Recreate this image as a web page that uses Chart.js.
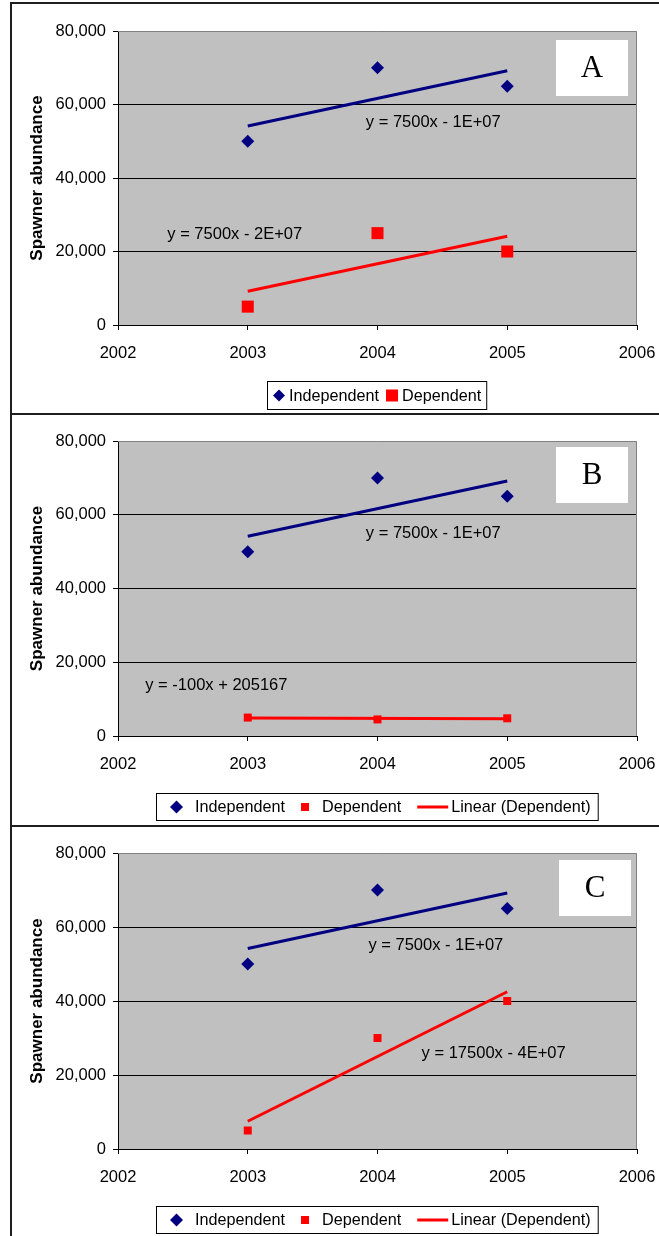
<!DOCTYPE html>
<html>
<head>
<meta charset="utf-8">
<script src="https://cdn.jsdelivr.net/npm/chart.js@4.4.1/dist/chart.umd.min.js"></script>
<style>
  html, body { margin: 0; padding: 0; background: #fff; }
  #page { position: relative; width: 659px; height: 1236px; overflow: hidden; background: #fff; }
  #page canvas { position: absolute; left: 0; }
  .rule { position: absolute; background: #1e1e1e; z-index: 2; }
</style>
</head>
<body>
<div id="page">
  <canvas id="panelA" width="672" height="414" style="top:0px"></canvas>
  <canvas id="panelB" width="672" height="412" style="top:414px"></canvas>
  <canvas id="panelC" width="672" height="410" style="top:826px"></canvas>
  <div class="rule" style="left:10px;top:2px;width:2px;height:1234px"></div>
  <div class="rule" style="left:10px;top:2px;width:649px;height:2px"></div>
  <div class="rule" style="left:10px;top:413px;width:649px;height:2px"></div>
  <div class="rule" style="left:10px;top:825px;width:649px;height:2px"></div>
</div>
<script>
// ---- data ----
const years = [2003, 2004, 2005];
const independent = [50000, 70000, 65000];
const dependentA = [5000, 25000, 20000];
const dependentB = [5000, 4500, 4800];
const dependentC = [5000, 30000, 40000];

// least-squares trend lines, evaluated at the first and last year
const trendYears = [2003, 2005];
const trendIndependent = [54167, 69167];
const trendDependentA = [9167, 24167];
const trendDependentB = [4867, 4667];
const trendDependentC = [7500, 42500];

const xTicks = [2002, 2003, 2004, 2005, 2006];
const yTicks = [0, 20000, 40000, 60000, 80000];

const seriesNames = ['Independent', 'Dependent', 'Linear (Dependent)'];
const eqIndependent = 'y = 7500x - 1E+07';
const eqDependentA = 'y = 7500x - 2E+07';
const eqDependentB = 'y = -100x + 205167';
const eqDependentC = 'y = 17500x - 4E+07';

// ---- styling ----
const SANS = '"Liberation Sans", Arial, Helvetica, sans-serif';
const SERIF = '"Liberation Serif", "Times New Roman", serif';
const NAVY = '#000080';
const RED = '#ff0000';
const PLOT_BG = '#c0c0c0';

function pts(xs, ys) { return xs.map((x, i) => ({ x: x, y: ys[i] })); }

// plot background, frame, equation labels, panel letter and boxed legend
const panelDecor = {
  id: 'panelDecor',
  beforeDraw(chart) {
    const a = chart.chartArea, ctx = chart.ctx;
    ctx.save();
    ctx.fillStyle = PLOT_BG;
    ctx.fillRect(a.left, a.top, a.right - a.left, a.bottom - a.top);
    ctx.restore();
  },
  afterDatasetsDraw(chart, args, o) {
    const a = chart.chartArea, ctx = chart.ctx;
    const xs = chart.scales.x, ys = chart.scales.y;
    ctx.save();
    // grey top/right frame of the plot area
    ctx.strokeStyle = '#808080';
    ctx.lineWidth = 1;
    ctx.beginPath();
    ctx.moveTo(a.left, a.top + 0.5);
    ctx.lineTo(a.right - 0.5, a.top + 0.5);
    ctx.lineTo(a.right - 0.5, a.bottom);
    ctx.stroke();

    // trend equations
    ctx.fillStyle = '#000';
    ctx.font = '16.5px ' + SANS;
    ctx.textAlign = 'left';
    ctx.textBaseline = 'middle';
    o.equations.forEach(e => {
      ctx.fillText(e.text, xs.getPixelForValue(e.x), ys.getPixelForValue(e.y));
    });

    // panel letter box
    const b = o.letterBox;
    const bx = a.right - b.right - b.w, by = a.top + b.top;
    ctx.fillStyle = '#fff';
    ctx.fillRect(bx, by, b.w, b.h);
    ctx.fillStyle = '#000';
    ctx.font = '31px ' + SERIF;
    ctx.textAlign = 'center';
    ctx.textBaseline = 'middle';
    ctx.fillText(o.letter, bx + b.w / 2, by + b.h / 2 + 1);
    ctx.restore();
  },
  afterDraw(chart, args, o) {
    const a = chart.chartArea, ctx = chart.ctx;
    const L = o.legend;
    ctx.save();
    ctx.font = '16.2px ' + SANS;
    let total = L.padL + L.padR;
    L.items.forEach((it, i) => {
      it.tw = ctx.measureText(it.label).width;
      total += it.w + it.gap + it.tw + (i > 0 ? L.itemGap : 0);
    });
    const left = Math.round((a.left + a.right) / 2 - total / 2);
    const top = Math.round(a.bottom + L.offset);
    ctx.fillStyle = '#fff';
    ctx.fillRect(left, top, total, L.h);
    ctx.strokeStyle = '#000';
    ctx.lineWidth = 1;
    ctx.strokeRect(left + 0.5, top + 0.5, total - 1, L.h - 1);
    const cy = top + L.h / 2;
    let x = left + L.padL;
    L.items.forEach((it, i) => {
      if (i > 0) x += L.itemGap;
      const cx = x + it.w / 2;
      ctx.fillStyle = it.color;
      ctx.strokeStyle = it.color;
      if (it.kind === 'diamond') {
        const r = it.w / 2;
        ctx.beginPath();
        ctx.moveTo(cx - r, cy); ctx.lineTo(cx, cy - r);
        ctx.lineTo(cx + r, cy); ctx.lineTo(cx, cy + r);
        ctx.closePath(); ctx.fill();
      } else if (it.kind === 'square') {
        ctx.fillRect(cx - it.w / 2, cy - it.w / 2, it.w, it.w);
      } else {
        ctx.lineWidth = 3;
        ctx.beginPath(); ctx.moveTo(x, cy); ctx.lineTo(x + it.w, cy); ctx.stroke();
      }
      x += it.w + it.gap;
      ctx.fillStyle = '#000';
      ctx.textAlign = 'left';
      ctx.textBaseline = 'middle';
      ctx.fillText(it.label, x, cy + 1);
      x += it.tw;
    });
    ctx.restore();
  }
};

function buildPanel(p) {
  const datasets = [
    { label: seriesNames[0], data: pts(years, independent), showLine: false,
      pointStyle: 'rectRot', pointRadius: 6.5, pointHoverRadius: 6.5,
      backgroundColor: NAVY, borderColor: NAVY, pointBorderWidth: 0 },
    { label: seriesNames[1], data: pts(years, p.dependent), showLine: false,
      pointStyle: 'rect', pointRadius: p.squareRadius, pointHoverRadius: p.squareRadius,
      backgroundColor: RED, borderColor: RED, pointBorderWidth: 0 },
    { label: 'Linear (Independent)', data: pts(trendYears, trendIndependent), showLine: true,
      pointRadius: 0, borderColor: NAVY, borderWidth: 3, fill: false },
    { label: seriesNames[2], data: pts(trendYears, p.trend), showLine: true,
      pointRadius: 0, borderColor: RED, borderWidth: 3, fill: false }
  ];
  return new Chart(document.getElementById(p.id), {
    type: 'scatter',
    data: { datasets },
    plugins: [panelDecor],
    options: {
      responsive: false,
      animation: false,
      devicePixelRatio: 1,
      events: [],
      layout: { padding: { left: 0, right: 35, top: p.padTop, bottom: p.padBottom } },
      plugins: {
        legend: { display: false },
        tooltip: { enabled: false },
        panelDecor: { letter: p.letter, letterBox: p.letterBox, equations: p.equations, legend: p.legend }
      },
      scales: {
        x: {
          type: 'linear', min: xTicks[0], max: xTicks[xTicks.length - 1],
          afterBuildTicks: s => { s.ticks = xTicks.map(v => ({ value: v })); },
          afterFit: s => { s.height = 40; },
          ticks: { color: '#000', font: { family: SANS, size: 16.5 }, padding: 14,
                   maxRotation: 0, callback: v => String(v) },
          grid: { drawOnChartArea: false, drawTicks: true, tickLength: 5, tickColor: '#000', tickWidth: 1 },
          border: { display: true, color: '#000', width: 1 }
        },
        y: {
          type: 'linear', min: yTicks[0], max: yTicks[yTicks.length - 1],
          afterBuildTicks: s => { s.ticks = yTicks.map(v => ({ value: v })); },
          afterFit: s => { s.width = 118; },
          ticks: { color: '#000', font: { family: SANS, size: 16.5 }, padding: 7,
                   callback: v => Number(v).toLocaleString('en-US') },
          grid: {
            drawOnChartArea: true, drawTicks: true, tickLength: 5, tickColor: '#000',
            color: c => (c.tick && c.tick.value === yTicks[yTicks.length - 1]) ? 'rgba(0,0,0,0)' : '#000',
            lineWidth: 1
          },
          border: { display: true, color: '#000', width: 1 },
          title: { display: true, text: 'Spawner abundance', color: '#000',
                   font: { family: SANS, size: 17, weight: 'bold' }, padding: { top: 27, bottom: 0 } }
        }
      }
    }
  });
}

const legendAItems = [
  { kind: 'diamond', color: NAVY, w: 12, gap: 4, label: seriesNames[0] },
  { kind: 'square', color: RED, w: 12, gap: 4, label: seriesNames[1] }
];
const legendBCItems = () => [
  { kind: 'diamond', color: NAVY, w: 13, gap: 12, label: seriesNames[0] },
  { kind: 'square', color: RED, w: 8, gap: 13, label: seriesNames[1] },
  { kind: 'line', color: RED, w: 31, gap: 3, label: seriesNames[2] }
];

buildPanel({
  id: 'panelA', letter: 'A', padTop: 31, padBottom: 49,
  dependent: dependentA, trend: trendDependentA, squareRadius: 8.5,
  letterBox: { right: 9, top: 9, w: 72, h: 56 },
  equations: [
    { text: eqIndependent, x: 2003.91, y: 55000 },
    { text: eqDependentA, x: 2002.38, y: 24760 }
  ],
  legend: { items: legendAItems, padL: 6, padR: 6, itemGap: 7, offset: 56, h: 29 }
});

buildPanel({
  id: 'panelB', letter: 'B', padTop: 27, padBottom: 50,
  dependent: dependentB, trend: trendDependentB, squareRadius: 5.66,
  letterBox: { right: 9, top: 6, w: 72, h: 56 },
  equations: [
    { text: eqIndependent, x: 2003.91, y: 55000 },
    { text: eqDependentB, x: 2002.21, y: 13830 }
  ],
  legend: { items: legendBCItems(), padL: 14, padR: 8, itemGap: 16, offset: 57, h: 28 }
});

buildPanel({
  id: 'panelC', letter: 'C', padTop: 27, padBottom: 47,
  dependent: dependentC, trend: trendDependentC, squareRadius: 5.66,
  letterBox: { right: 6, top: 7, w: 72, h: 56 },
  equations: [
    { text: eqIndependent, x: 2003.93, y: 54900 },
    { text: eqDependentC, x: 2004.34, y: 25950 }
  ],
  legend: { items: legendBCItems(), padL: 14, padR: 8, itemGap: 16, offset: 57, h: 28 }
});
</script>
</body>
</html>
